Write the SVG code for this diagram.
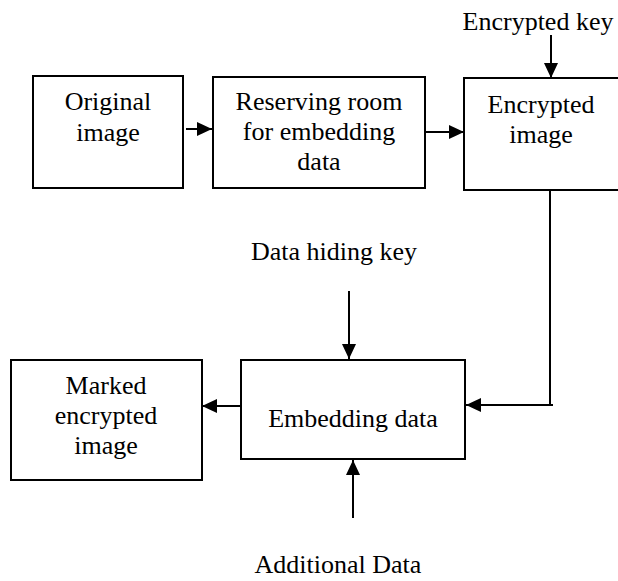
<svg xmlns="http://www.w3.org/2000/svg" width="618" height="581" viewBox="0 0 618 581">
<defs>
<style>
.box{fill:#fff;stroke:#000;stroke-width:2}
.t{font-family:"Liberation Serif","Times New Roman",serif;font-size:26px;fill:#000;text-anchor:middle}
.c{fill:none;stroke:#000;stroke-width:2}
.a{marker-end:url(#ah)}
</style>
<marker id="ah" markerUnits="userSpaceOnUse" markerWidth="16" markerHeight="16" refX="15" refY="7" orient="auto">
<path d="M0,0 L15,7 L0,14 z" fill="#000"/>
</marker>
</defs>
<rect width="618" height="581" fill="#fff"/>
<g id="original">
<rect class="box" x="33" y="76" width="150" height="112"/>
<text class="t" x="108" y="110">Original</text>
<text class="t" x="108" y="141">image</text>
</g>
<g id="reserving">
<rect class="box" x="213" y="77" width="212" height="111"/>
<text class="t" x="319" y="110">Reserving room</text>
<text class="t" x="319" y="140">for embedding</text>
<text class="t" x="319" y="170">data</text>
</g>
<g id="encrypted">
<rect class="box" x="464" y="78" width="160" height="112"/>
<text class="t" x="541" y="113">Encrypted</text>
<text class="t" x="541" y="143">image</text>
</g>
<g id="embedding">
<rect class="box" x="241" y="360" width="224" height="99"/>
<text class="t" x="353" y="427">Embedding data</text>
</g>
<g id="marked">
<rect class="box" x="11" y="360" width="191" height="120"/>
<text class="t" x="106" y="394">Marked</text>
<text class="t" x="106" y="424">encrypted</text>
<text class="t" x="106" y="454">image</text>
</g>
<g id="labels">
<text class="t" x="538" y="30">Encrypted key</text>
<text class="t" x="334" y="260">Data hiding key</text>
<text class="t" x="338" y="573">Additional Data</text>
</g>
<g id="connectors">
<line class="c a" x1="186" y1="129" x2="212" y2="129"/>
<line class="c a" x1="425" y1="132" x2="464" y2="132"/>
<line class="c a" x1="551" y1="35" x2="551" y2="78"/>
<path class="c" d="M550 190 V405"/>
<line class="c a" x1="553" y1="405" x2="466" y2="405"/>
<line class="c a" x1="241" y1="406" x2="202" y2="406"/>
<line class="c a" x1="349" y1="291" x2="349" y2="359"/>
<line class="c a" x1="353" y1="518" x2="353" y2="460"/>
</g>
</svg>
